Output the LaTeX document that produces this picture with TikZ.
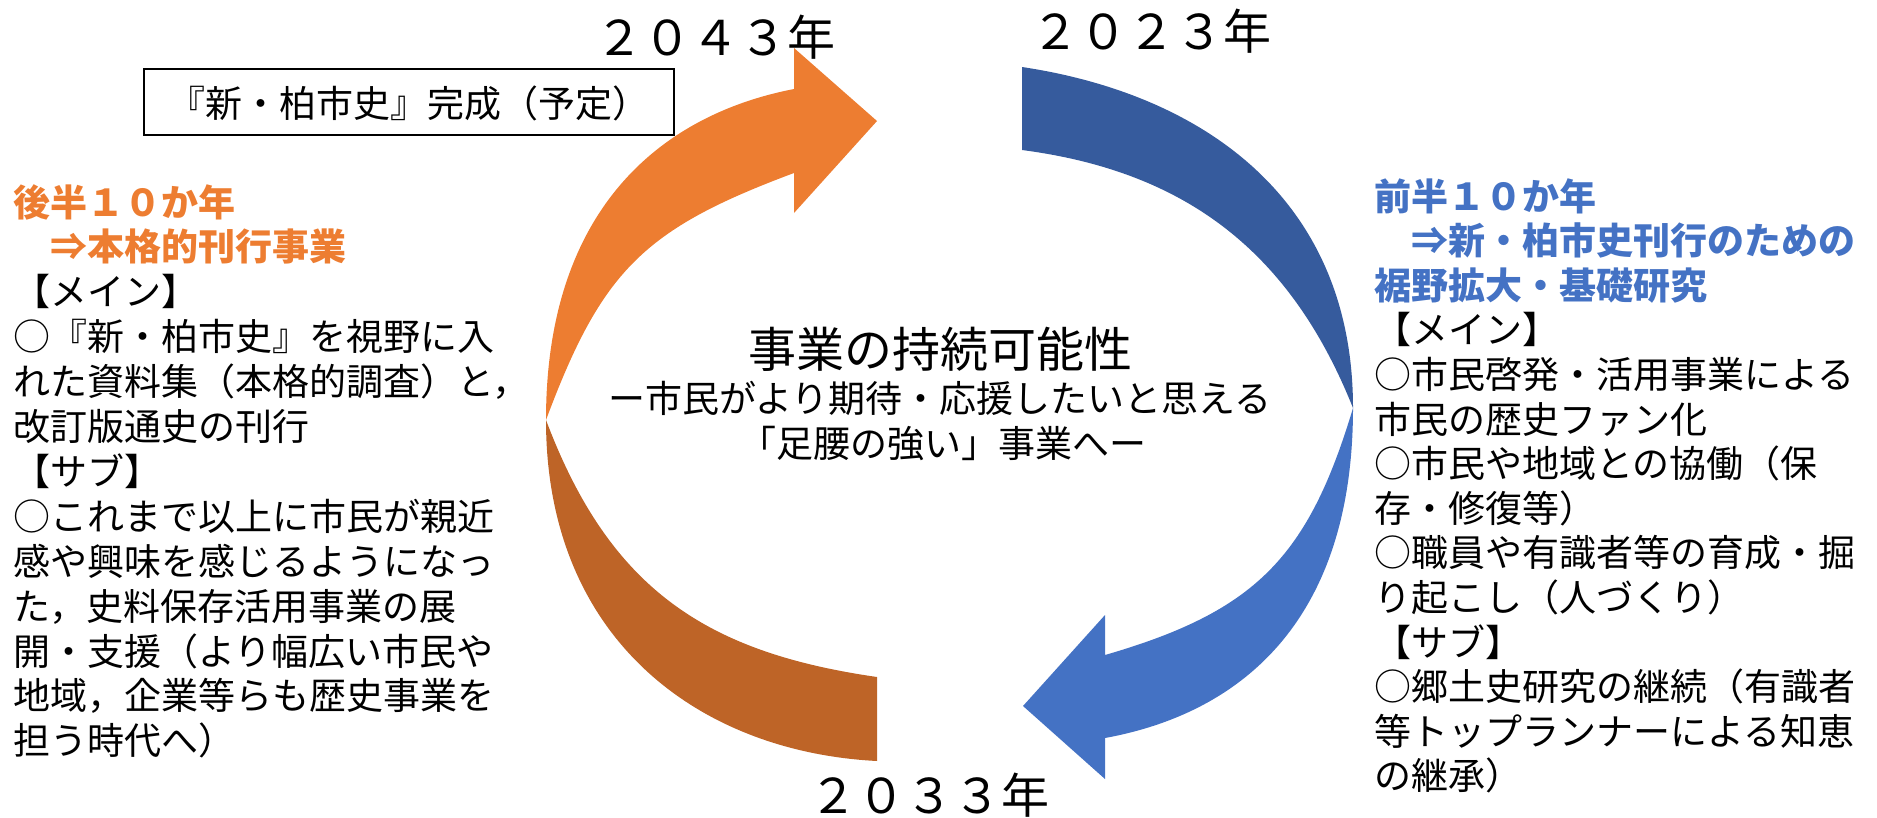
\documentclass[tikz,border=0pt]{standalone}
\usepackage{fontspec}
\setmainfont{Noto Sans CJK JP}
\definecolor{orangeL}{HTML}{ED7D31}
\definecolor{orangeD}{HTML}{BE6427}
\definecolor{blueL}{HTML}{4472C4}
\definecolor{blueD}{HTML}{365B9D}
\begin{document}
\begin{tikzpicture}[x=1pt,y=-1pt,
  txt/.style={inner sep=0pt, anchor=base west, font=\fontsize{37}{44.8}\selectfont},
  headL/.style={txt, text=orangeL, font=\fontsize{37}{44.8}\selectfont\bfseries},
  headR/.style={txt, text=blueL, font=\fontsize{37}{44.8}\selectfont\bfseries},
  year/.style={inner sep=0pt, anchor=base west, font=\fontsize{48}{52}\selectfont},
  ctr/.style={inner sep=0pt, anchor=base}]
\useasboundingbox (0,0) rectangle (1877,817);

% orange curved arrow (upper, light)
\fill[orangeL] (546,420) .. controls (546,210) and (660,115) .. (794,89)
  -- (794,48) -- (877,121) -- (794,213) -- (794,173)
  .. controls (644,229) and (602,270) .. (546,420) -- cycle;
% orange back band (lower, dark)
\fill[orangeD] (546,420) .. controls (546,640) and (700,752) .. (877,761)
  -- (877,677) .. controls (707,652.5) and (610,590) .. (546,420) -- cycle;
% blue back band (upper, dark)
\fill[blueD] (1022,67) .. controls (1202,94) and (1353,198) .. (1353,408)
  .. controls (1289,248) and (1182,171) .. (1022,150) -- cycle;
% blue curved arrow (lower, light)
\fill[blueL] (1353,408) .. controls (1353,620) and (1242,713) .. (1105,738)
  -- (1105,779) -- (1023,706) -- (1105,615) -- (1105,655)
  .. controls (1255,611.5) and (1308,558) .. (1353,408) -- cycle;

% years
\node[year] (y2043) at (595,55) {２０４３年};
\node[year] (y2023) at (1031,49) {２０２３年};
\node[year] (y2033) at (809,813) {２０３３年};

% box
\node[draw, line width=1.5pt, minimum width=530pt, minimum height=66pt, inner sep=0pt] (plan) at (409,102) {};
\node[ctr, font=\fontsize{37}{42}\selectfont] (plantext) at (409,117) {『新・柏市史』完成（予定）};

% centre
\node[ctr, font=\fontsize{48}{52}\selectfont] (c1) at (940,367) {事業の持続可能性};
\node[ctr, font=\fontsize{37}{44}\selectfont] (c2) at (940,412) {ー市民がより期待・応援したいと思える};
\node[ctr, font=\fontsize{37}{44}\selectfont] (c3) at (943,457) {「足腰の強い」事業へー};

% left block
\node[headL] (l1) at (13,216.0) {後半１０か年};
\node[headL] (l2) at (13,260.9) {　⇒本格的刊行事業};
\node[txt] (l3) at (13,305.8) {【メイン】};
\node[txt] (l4) at (13,350.7) {○『新・柏市史』を視野に入};
\node[txt] (l5) at (13,395.6) {れた資料集（本格的調査）と，};
\node[txt] (l6) at (13,440.5) {改訂版通史の刊行};
\node[txt] (l7) at (13,485.4) {【サブ】};
\node[txt] (l8) at (13,530.3) {○これまで以上に市民が親近};
\node[txt] (l9) at (13,575.2) {感や興味を感じるようになっ};
\node[txt] (l10) at (13,620.1) {た，史料保存活用事業の展};
\node[txt] (l11) at (13,665.0) {開・支援（より幅広い市民や};
\node[txt] (l12) at (13,709.9) {地域，企業等らも歴史事業を};
\node[txt] (l13) at (13,754.8) {担う時代へ）};

% right block
\node[headR] (r1) at (1374,210.0) {前半１０か年};
\node[headR] (r2) at (1374,254.6) {　⇒新・柏市史刊行のための};
\node[headR] (r3) at (1374,299.2) {裾野拡大・基礎研究};
\node[txt] (r4) at (1374,343.8) {【メイン】};
\node[txt] (r5) at (1374,388.4) {○市民啓発・活用事業による};
\node[txt] (r6) at (1374,433.0) {市民の歴史ファン化};
\node[txt] (r7) at (1374,477.6) {○市民や地域との協働（保};
\node[txt] (r8) at (1374,522.2) {存・修復等）};
\node[txt] (r9) at (1374,566.8) {○職員や有識者等の育成・掘};
\node[txt] (r10) at (1374,611.4) {り起こし（人づくり）};
\node[txt] (r11) at (1374,656.0) {【サブ】};
\node[txt] (r12) at (1374,700.6) {○郷土史研究の継続（有識者};
\node[txt] (r13) at (1374,745.2) {等トップランナーによる知恵};
\node[txt] (r14) at (1374,789.8) {の継承）};
\end{tikzpicture}
\end{document}
